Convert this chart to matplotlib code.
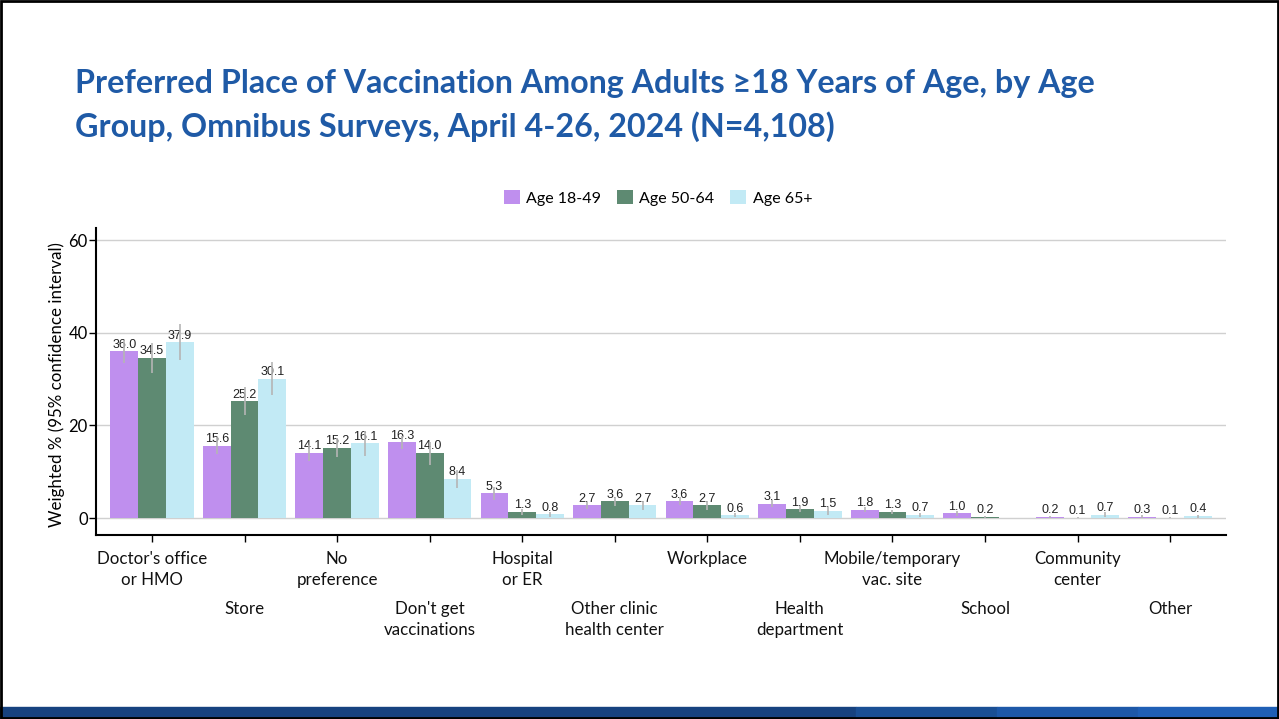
import numpy as np
import matplotlib.pyplot as plt
import matplotlib.transforms as mtransforms
from matplotlib.patches import Rectangle

# data
categories = ["Doctor's office\nor HMO", "Store", "No\npreference", "Don't get\nvaccinations",
              "Hospital\nor ER", "Other clinic\nhealth center", "Workplace", "Health\ndepartment",
              "Mobile/temporary\nvac. site", "School", "Community\ncenter", "Other"]
series_names = ["Age 18-49", "Age 50-64", "Age 65+"]
age_18_49 = [36.0, 15.6, 14.1, 16.3, 5.3, 2.7, 3.6, 3.1, 1.8, 1.0, 0.2, 0.3]
age_50_64 = [34.5, 25.2, 15.2, 14.0, 1.3, 3.6, 2.7, 1.9, 1.3, 0.2, 0.1, 0.1]
age_65_up = [37.9, 30.1, 16.1, 8.4, 0.8, 2.7, 0.6, 1.5, 0.7, np.nan, 0.7, 0.4]
# half width of 95% CI (estimated)
err_18_49 = [2.5, 1.8, 1.7, 1.5, 1.5, 0.8, 0.9, 0.8, 0.6, 0.5, 0.2, 0.3]
err_50_64 = [3.2, 3.0, 2.0, 2.5, 0.6, 1.0, 0.9, 0.7, 0.5, 0.2, 0.1, 0.1]
err_65_up = [3.9, 3.5, 2.7, 2.0, 0.5, 1.0, 0.4, 0.9, 0.4, np.nan, 0.5, 0.3]
yticks = [0, 20, 40, 60]

colors = ['#BF8FEE', '#5E8A72', '#C2EAF5']
values = [age_18_49, age_50_64, age_65_up]
errors = [err_18_49, err_50_64, err_65_up]

fig = plt.figure(figsize=(12.79, 7.19), dpi=100)
ax = fig.add_axes([0.0751, 0.2559, 0.8835, 0.427])

x = np.arange(len(categories))
w = 0.3
for i in range(3):
    v = np.array(values[i], dtype=float)
    e = np.array(errors[i], dtype=float)
    pos = x + (i - 1) * w
    ok = ~np.isnan(v)
    ax.bar(pos[ok], v[ok], width=w, color=colors[i], label=series_names[i], zorder=2)
    for p, val in zip(pos[ok], v[ok]):
        ax.annotate('%.1f' % val, (p, val), xytext=(0, 0.5), textcoords='offset points',
                    ha='center', va='bottom', fontsize=9, color='#222222',
                    family='Liberation Sans', zorder=3)
    ax.vlines(pos[ok], v[ok] - e[ok], v[ok] + e[ok], color='#B5B5B5', lw=1.2, zorder=4)

ax.set_xlim(-0.605, len(categories) - 1 + 0.605)
ax.set_ylim(-3.67, 62.6)
ax.set_yticks(yticks)
ax.set_yticklabels([str(t) for t in yticks], fontsize=12, family='Lato')
ax.yaxis.grid(True, color='#D0D0D0', lw=1)
ax.set_axisbelow(True)
ax.set_xticks(x)
ax.set_xticklabels([])
ax.tick_params(axis='both', direction='out', length=5, width=1)
ax.tick_params(axis='y', pad=1)
for s in ['top', 'right']:
    ax.spines[s].set_visible(False)
ax.spines['left'].set_linewidth(1.5)
ax.spines['bottom'].set_linewidth(1.5)
ax.set_ylabel('Weighted % (95% confidence interval)', fontsize=12.2, family='Lato')
ax.yaxis.set_label_coords(-0.0275, 0.49)

# category labels alternate between two rows
trans = mtransforms.blended_transform_factory(ax.transData, fig.transFigure)
for i, c in enumerate(categories):
    yy = (719 - 551) / 719 if i % 2 == 0 else (719 - 601) / 719
    ax.text(i, yy, c, transform=trans, ha='center', va='top', fontsize=12.2,
            family='Lato', linespacing=1.38, color='#111111')

fig.legend(loc='center', bbox_to_anchor=(658 / 1279, (719 - 198) / 719), ncol=3,
           frameon=False, handlelength=1.0, handleheight=1.0, handletextpad=0.4,
           columnspacing=1.0, prop={'family': 'Lato', 'size': 11.5})

# title, two lines
title_lines = ['Preferred Place of Vaccination Among Adults \u226518 Years of Age, by Age',
               'Group, Omnibus Surveys, April 4-26, 2024 (N=4,108)']
for k, line in enumerate(title_lines):
    fig.text(75 / 1279, (719 - 83 - 44 * k) / 719, line, ha='left', va='center',
             fontsize=23.2, fontweight='bold', color='#1F5AA6', family=['Lato', 'DejaVu Sans'])

# bottom strip of the slide
strip = [(0, 856, '#17427F'), (856, 997, '#1A4F94'), (997, 1138, '#1D58A8'), (1138, 1279, '#1F5FB5')]
for a, b, col in strip:
    fig.patches.append(Rectangle((a / 1279, 1 / 719), (b - a) / 1279, 11 / 719,
                                 transform=fig.transFigure, color=col, zorder=5))
fig.patches.append(Rectangle((0.001, 0.001), 0.998, 0.997, transform=fig.transFigure,
                             fill=False, edgecolor='black', lw=2, zorder=6))

fig.savefig('out.png', dpi=100)
